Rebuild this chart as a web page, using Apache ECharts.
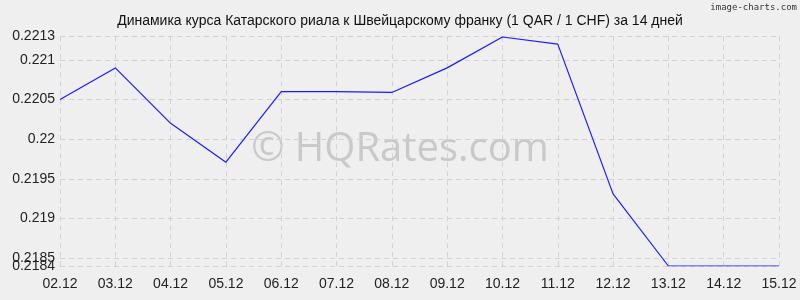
<!DOCTYPE html>
<html><head><meta charset="utf-8">
<script src="https://cdn.jsdelivr.net/npm/echarts@6/dist/echarts.min.js"></script>
<style>html,body{margin:0;padding:0;background:#efefef;}#c{width:800px;height:300px;}</style>
</head><body><div id="c"></div>
<script>
const categories = ['02.12','03.12','04.12','05.12','06.12','07.12','08.12','09.12','10.12','11.12','12.12','13.12','14.12','15.12'];
const rates = [0.2205,0.2209,0.2202,0.21971,0.2206,0.22060,0.22059,0.2209,0.22129,0.2212,0.21931,0.2184,0.2184,0.2184];
const yTicks = [0.2184,0.2185,0.219,0.2195,0.22,0.2205,0.221,0.2213];
const titleText = 'Динамика курса Катарского риала к Швейцарскому франку (1 QAR / 1 CHF) за 14 дней';

const yMin = yTicks[0], yMax = yTicks[yTicks.length-1];
const labelStyle = {fontFamily:'Liberation Sans',fontSize:14,color:'#222',margin:5,
  showMinLabel:true,showMaxLabel:true,hideOverlap:false,
  formatter:v=>String(+v.toFixed(4))};
const gridLine = {type:[5,4],color:'#d3d3d3',width:1};

const chart = echarts.init(document.getElementById('c'), null, {renderer:'canvas'});
chart.setOption({
  backgroundColor:'#efefef',
  animation:false,
  title:{text:titleText,left:'center',top:9,textStyle:{fontFamily:'Liberation Sans',fontSize:14,fontWeight:'normal',color:'#111'}},
  graphic:[
    {type:'text',left:'center',top:130,style:{text:'© HQRates.com',font:'40px "Open Sans", sans-serif',fill:'#c9c9c9'}},
    {type:'text',right:3,top:3,style:{text:'image-charts.com',font:'9px "DejaVu Sans Mono", monospace',fill:'#333'}}
  ],
  grid:{left:60,right:21,top:36.2,bottom:34,containLabel:false},
  xAxis:{type:'category',data:categories,boundaryGap:false,
    axisLine:{show:false},axisTick:{show:false},
    axisLabel:{fontFamily:'Liberation Sans',fontSize:14,color:'#222',margin:11,interval:0},
    splitLine:{show:true,lineStyle:gridLine}},
  yAxis:[
    {type:'value',min:yMin,max:yMax,position:'left',
      axisLine:{show:false},
      axisTick:{show:false,customValues:yTicks},
      axisLabel:Object.assign({customValues:yTicks.slice(1)},labelStyle),
      splitLine:{show:true,lineStyle:gridLine}},
    {type:'value',min:yMin,max:yMax,position:'left',offset:0,
      axisLine:{show:false},
      axisTick:{show:false,customValues:[yMin]},
      axisLabel:Object.assign({customValues:[yMin]},labelStyle),
      splitLine:{show:false}}
  ],
  series:[{type:'line',yAxisIndex:0,data:rates,symbol:'none',lineStyle:{color:'#1a1aff',width:1.2},z:3}]
});
</script></body></html>
